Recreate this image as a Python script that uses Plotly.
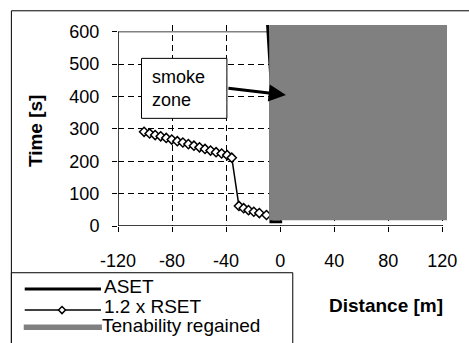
import plotly.graph_objects as go

# ---- data ----
rset_x = [-100.7, -96.6, -92.5, -88.4, -84.3, -80.2, -76.1, -72.0, -67.9, -63.8,
          -59.7, -55.6, -51.5, -47.4, -43.3, -39.2, -35.8,
          -30.5, -27.0, -23.4, -19.5, -15.4, -10.1]
rset_y = [291, 286, 281, 277, 272, 267, 262, 258, 253, 248,
          243, 238, 233, 228, 224, 219, 211,
          62, 55, 49, 44, 40, 34]
aset_x = [-9.3, -6.8, -6.8, 1.5]
aset_y = [621, 450, 13, 13]
regained_x = [-8.1, 123.5, 123.5, -8.1]
regained_y = [18, 18, 621, 621]
x_ticks = [-120, -80, -40, 0, 40, 80, 120]
y_ticks = [0, 100, 200, 300, 400, 500, 600]

FONT = "Arial, Liberation Sans, sans-serif"
W, H = 469, 343
L, R, T, B = 117.5, 455.4, 25.2, 226.0
PW, PH = R - L, B - T


def px(x):
    return (x - L) / PW


def py(y):
    return (B - y) / PH


fig = go.Figure()
fig.add_trace(go.Scatter(x=rset_x, y=rset_y, mode="lines+markers",
                         line=dict(color="black", width=1.5),
                         marker=dict(symbol="diamond", size=7, color="white",
                                     line=dict(color="black", width=1.5)),
                         name="1.2 x RSET", showlegend=False))
fig.add_trace(go.Scatter(x=aset_x, y=aset_y, mode="lines",
                         line=dict(color="black", width=3),
                         name="ASET", showlegend=False))
fig.add_trace(go.Scatter(x=regained_x, y=regained_y, mode="lines", fill="toself",
                         fillcolor="#808080", line=dict(color="#808080", width=0),
                         name="Tenability regained", showlegend=False))

shapes = []
shapes.append(dict(type="line", xref="x", yref="y", x0=-120, x1=120, y0=600, y1=600,
                   line=dict(color="#808080", width=1.5), layer="between"))
shapes.append(dict(type="line", xref="x", yref="y", x0=-120, x1=120, y0=0, y1=0,
                   line=dict(color="black", width=1.5), layer="above"))
shapes.append(dict(type="line", xref="x", yref="y", x0=-120, x1=-120, y0=0, y1=600,
                   line=dict(color="black", width=1.5), layer="above"))
shapes.append(dict(type="rect", xref="paper", yref="paper", x0=px(8), x1=px(480),
                   y0=py(360), y1=py(11), line=dict(color="black", width=1), layer="below"))
shapes.append(dict(type="rect", xref="x", yref="y", x0=-102.6, x1=-39.4, y0=332.6, y1=517.9,
                   fillcolor="white", line=dict(color="black", width=1), layer="above"))
shapes.append(dict(type="rect", xref="paper", yref="paper", x0=px(8), x1=px(297),
                   y0=py(360), y1=py(272.7), fillcolor="white",
                   line=dict(color="black", width=1), layer="above"))
shapes.append(dict(type="line", xref="paper", yref="paper", x0=px(21.7), x1=px(100),
                   y0=py(289), y1=py(289), line=dict(color="black", width=3), layer="above"))
shapes.append(dict(type="line", xref="paper", yref="paper", x0=px(21.7), x1=px(100),
                   y0=py(310), y1=py(310), line=dict(color="black", width=1.5), layer="above"))
shapes.append(dict(type="path", xref="paper", yref="paper", xsizemode="pixel", ysizemode="pixel",
                   xanchor=px(60), yanchor=py(310), path="M-3.5,0 L0,3.5 L3.5,0 L0,-3.5 Z",
                   fillcolor="white", line=dict(color="black", width=1.5), layer="above"))
shapes.append(dict(type="rect", xref="paper", yref="paper", x0=px(20.7), x1=px(101),
                   y0=py(330), y1=py(324.5), fillcolor="#808080",
                   line=dict(width=0), layer="above"))

annotations = [
    dict(x=-96.6, y=424, xref="x", yref="y", text="smoke<br>zone", showarrow=False,
         xanchor="left", yanchor="middle", align="left",
         font=dict(family=FONT, size=18, color="black")),
    dict(x=4.3, y=404.6, xref="x", yref="y", ax=-39.4, ay=426, axref="x", ayref="y",
         text="", showarrow=True, arrowhead=2, arrowsize=1.15, arrowwidth=3,
         arrowcolor="black", standoff=0, startstandoff=0),
    dict(x=px(33.5), y=py(131), xref="paper", yref="paper", text="<b>Time [s]</b>",
         textangle=-90, showarrow=False, xanchor="center", yanchor="middle",
         font=dict(family=FONT, size=19, color="black")),
    dict(x=px(393), y=py(305), xref="paper", yref="paper", text="<b>Distance [m]</b>",
         showarrow=False, xanchor="center", yanchor="middle",
         font=dict(family=FONT, size=19, color="black")),
    dict(x=px(102), y=py(286.5), xref="paper", yref="paper", text="ASET",
         showarrow=False, xanchor="left", yanchor="middle", borderpad=0,
         font=dict(family=FONT, size=19, color="black")),
    dict(x=px(102), y=py(306), xref="paper", yref="paper", text="1.2 x RSET",
         showarrow=False, xanchor="left", yanchor="middle", borderpad=0,
         font=dict(family=FONT, size=19, color="black")),
    dict(x=px(100), y=py(325.5), xref="paper", yref="paper", text="Tenability regained",
         showarrow=False, xanchor="left", yanchor="middle", borderpad=0,
         font=dict(family=FONT, size=19, color="black")),
]

fig.update_layout(
    width=W, height=H,
    margin=dict(l=L, r=W - R, t=T, b=H - B, pad=0),
    paper_bgcolor="white", plot_bgcolor="white",
    showlegend=False,
    shapes=shapes, annotations=annotations,
    xaxis=dict(range=[-120, 123.5], tickvals=x_ticks, ticktext=[str(v) for v in x_ticks],
               showline=False, zeroline=False, showgrid=True, gridcolor="black",
               griddash="6px,4px", gridwidth=1, ticks="outside", ticklen=5,
               tickcolor="black", tickwidth=1, ticklabelstandoff=13,
               tickfont=dict(family=FONT, size=18, color="black")),
    yaxis=dict(range=[0, 621], tickvals=y_ticks, ticktext=[str(v) for v in y_ticks],
               showline=False, zeroline=False, showgrid=True, gridcolor="black",
               griddash="6px,4px", gridwidth=1, ticks="outside", ticklen=5,
               tickcolor="black", tickwidth=1, ticklabelstandoff=9,
               tickfont=dict(family=FONT, size=18, color="black")),
)

fig.write_html("out.html")
